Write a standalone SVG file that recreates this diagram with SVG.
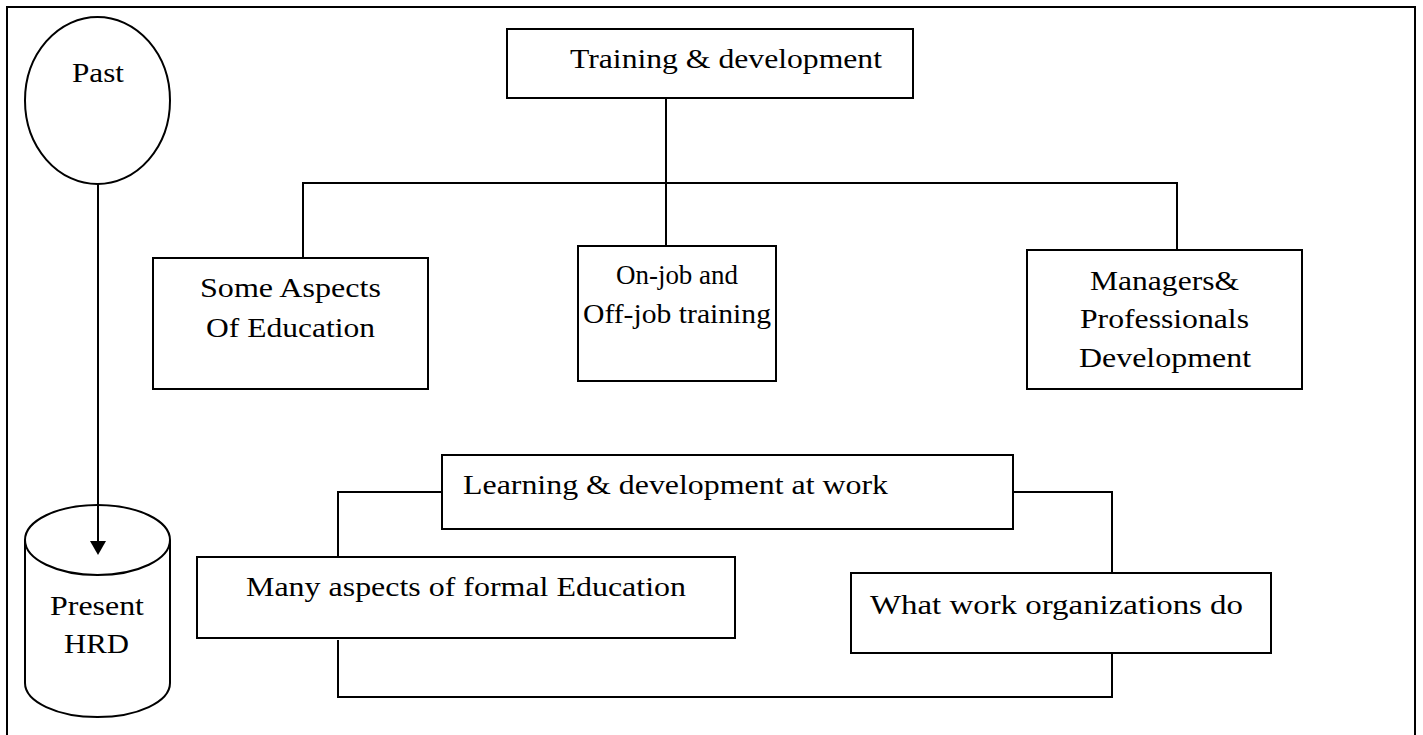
<svg xmlns="http://www.w3.org/2000/svg" width="1423" height="735" viewBox="0 0 1423 735">
  <style>
    .box { fill: #fff; stroke: #000; stroke-width: 2; }
    .wire { fill: none; stroke: #000; stroke-width: 2; }
    .lbl { font-family: "Liberation Serif", "Times New Roman", serif; font-size: 28px; fill: #000; }
  </style>

  <rect x="0" y="0" width="1423" height="735" fill="#fff"/>
  <!-- outer frame -->
  <rect x="7" y="7" width="1408" height="740" class="wire"/>

  <g id="past">
    <ellipse cx="97.5" cy="100.5" rx="72.5" ry="83.5" class="box"/>
    <text class="lbl" x="72" y="82" textLength="52" lengthAdjust="spacingAndGlyphs">Past</text>
  </g>

  <g id="present-hrd">
    <path d="M25,540 L25,683 A72.5,34 0 0 0 170,683 L170,540" class="box"/>
    <ellipse cx="97.5" cy="540" rx="72.5" ry="35" style="fill:#fff;stroke:#000;stroke-width:2"/>
    <text class="lbl" x="50" y="615" textLength="94" lengthAdjust="spacingAndGlyphs">Present</text>
    <text class="lbl" x="64" y="653" textLength="65" lengthAdjust="spacingAndGlyphs">HRD</text>
  </g>

  <g id="training-development">
    <rect x="507" y="29" width="406" height="69" class="box"/>
    <text class="lbl" x="570" y="68" textLength="312" lengthAdjust="spacingAndGlyphs">Training &amp; development</text>
  </g>

  <g id="some-aspects">
    <rect x="153" y="258" width="275" height="131" class="box"/>
    <text class="lbl" x="200" y="297" textLength="181" lengthAdjust="spacingAndGlyphs">Some Aspects</text>
    <text class="lbl" x="206" y="337" textLength="169" lengthAdjust="spacingAndGlyphs">Of Education</text>
  </g>

  <g id="on-off-job">
    <rect x="578" y="246" width="198" height="135" class="box"/>
    <text class="lbl" x="616" y="284" textLength="122" lengthAdjust="spacingAndGlyphs">On-job and</text>
    <text class="lbl" x="583" y="323" textLength="188" lengthAdjust="spacingAndGlyphs">Off-job training</text>
  </g>

  <g id="managers-professionals">
    <rect x="1027" y="250" width="275" height="139" class="box"/>
    <text class="lbl" x="1090" y="290" textLength="149" lengthAdjust="spacingAndGlyphs">Managers&amp;</text>
    <text class="lbl" x="1080" y="328" textLength="169" lengthAdjust="spacingAndGlyphs">Professionals</text>
    <text class="lbl" x="1079" y="367" textLength="172" lengthAdjust="spacingAndGlyphs">Development</text>
  </g>

  <g id="learning-development">
    <rect x="442" y="455" width="571" height="74" class="box"/>
    <text class="lbl" x="463" y="494" textLength="425" lengthAdjust="spacingAndGlyphs">Learning &amp; development at work</text>
  </g>

  <g id="formal-education">
    <rect x="197" y="557" width="538" height="81" class="box"/>
    <text class="lbl" x="246" y="596" textLength="440" lengthAdjust="spacingAndGlyphs">Many aspects of formal Education</text>
  </g>

  <g id="work-organizations">
    <rect x="851" y="573" width="420" height="80" class="box"/>
    <text class="lbl" x="870" y="614" textLength="373" lengthAdjust="spacingAndGlyphs">What work organizations do</text>
  </g>

  <!-- connectors, drawn over the nodes they touch -->
  <g id="connectors">
    <!-- Past down into Present HRD -->
    <line x1="98" y1="184" x2="98" y2="541" class="wire"/>
    <path d="M90,541 L106,541 L98,555 Z" fill="#000"/>
    <!-- Training & development tree -->
    <line x1="666" y1="98" x2="666" y2="246" class="wire"/>
    <polyline points="303,258 303,183 1177,183 1177,250" class="wire"/>
    <!-- Learning & development links -->
    <polyline points="442,492 338,492 338,557" class="wire"/>
    <polyline points="1013,492 1112,492 1112,573" class="wire"/>
    <polyline points="338,640 338,697 1112,697 1112,653" class="wire"/>
  </g>
</svg>
